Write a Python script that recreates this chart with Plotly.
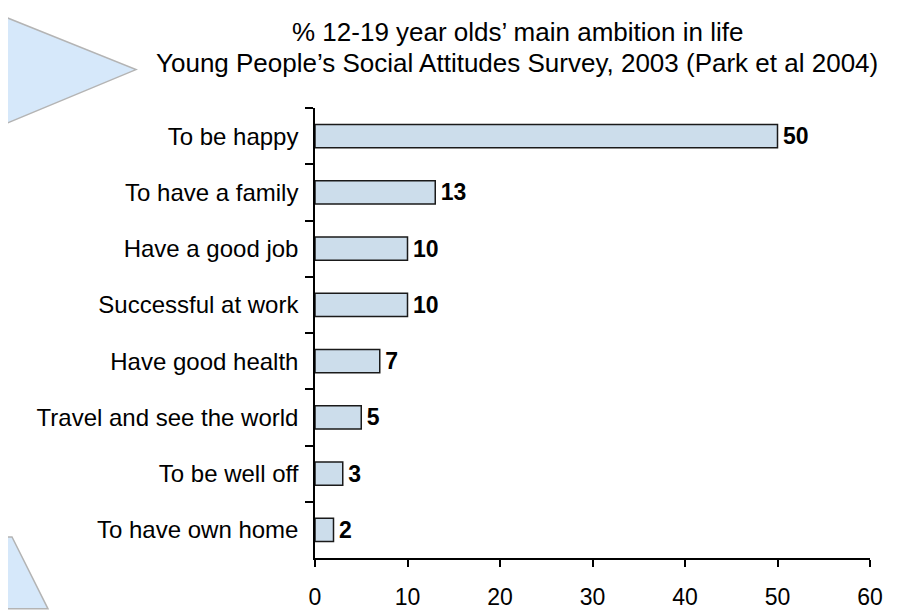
import plotly.graph_objects as go

categories = ["To be happy", "To have a family", "Have a good job", "Successful at work",
              "Have good health", "Travel and see the world", "To be well off", "To have own home"]
values = [50, 13, 10, 10, 7, 5, 3, 2]
x_ticks = [0, 10, 20, 30, 40, 50, 60]
title_line1 = "% 12-19 year olds\u2019 main ambition in life"
title_line2 = "Young People\u2019s Social Attitudes Survey, 2003 (Park et al 2004)"

W, H = 901, 614
L, R, T, B = 307, 39, 100, 45
PW, PH = W - L - R, H - T - B


def px(x):
    return (x - L) / PW


def py(y):
    return (H - B - y) / PH


FONT = "Liberation Sans, Arial, sans-serif"

fig = go.Figure(go.Bar(
    x=values, y=categories, orientation="h",
    width=0.41,
    marker=dict(color="#CCDDEB", line=dict(color="#1a1a1a", width=1.5)),
    text=[f"<span style='font-size:9px'> </span><b>{v}</b>" for v in values],
    textposition="outside",
    constraintext="none",
    textfont=dict(family=FONT, size=23, color="#000"),
    cliponaxis=False,
))

# decorative shapes
tri1 = f"M {px(-20)},{py(-2)} L {px(128)},{py(60)} L {px(-20)},{py(124)} Z"
tri2 = f"M {px(-20)},{py(547)} L {px(4)},{py(547)} L {px(40)},{py(622)} L {px(-20)},{py(622)} Z"
shapes = [
    dict(type="path", path=tri1, xref="paper", yref="paper", layer="below",
         fillcolor="#D6E8FA", line=dict(color="#B4B4B4", width=1.5)),
    dict(type="path", path=tri2, xref="paper", yref="paper", layer="below",
         fillcolor="#D6E8FA", line=dict(color="#B4B4B4", width=1.5)),
]

annotations = [
    dict(text=title_line1, x=px(509), y=py(21), xref="paper", yref="paper",
         xanchor="center", yanchor="middle", showarrow=False,
         font=dict(family=FONT, size=26, color="#000")),
    dict(text=title_line2, x=px(509), y=py(53), xref="paper", yref="paper",
         xanchor="center", yanchor="middle", showarrow=False,
         font=dict(family=FONT, size=26, color="#000")),
]

fig.update_layout(
    width=W, height=H,
    margin=dict(l=L, r=R, t=T, b=B, pad=0),
    paper_bgcolor="white", plot_bgcolor="white",
    showlegend=False,
    shapes=shapes,
    annotations=annotations,
    xaxis=dict(range=[0, 60], tickvals=x_ticks, ticks="outside", ticklen=7,
               tickcolor="#000", tickwidth=1.5, showline=True, linecolor="#000", linewidth=1.5,
               showgrid=False, zeroline=False, ticklabelstandoff=11,
               tickfont=dict(family=FONT, size=23, color="#000")),
    yaxis=dict(categoryorder="array", categoryarray=categories, autorange="reversed",
               ticks="outside", ticklen=8, tickson="boundaries", tickcolor="#000", tickwidth=1.5,
               showline=True, linecolor="#000", linewidth=1.5, showgrid=False, zeroline=False,
               ticklabelstandoff=10,
               tickfont=dict(family=FONT, size=24, color="#000")),
)

fig.write_html("out.html")
